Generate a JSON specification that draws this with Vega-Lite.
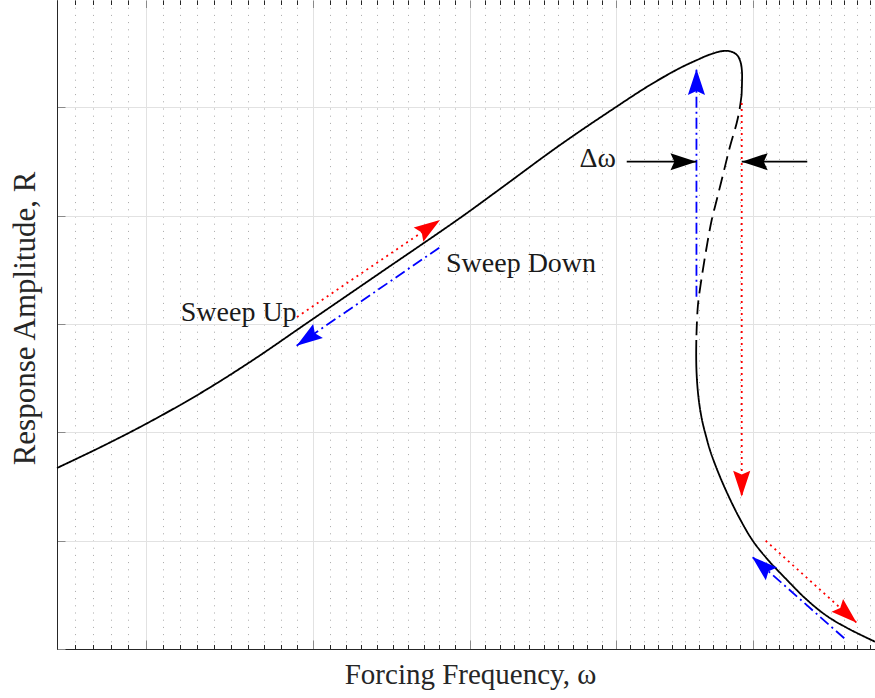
{
  "$schema": "https://vega.github.io/schema/vega-lite/v6.json",
  "width": 818,
  "height": 649,
  "autosize": {"type": "none"},
  "padding": {"left": 57, "top": 0, "right": 0, "bottom": 49},
  "background": "white",
  "config": {
    "view": {"stroke": null},
    "font": "Liberation Serif",
    "axis": {"labels": false, "titleFont": "Liberation Serif", "titleFontWeight": "normal", "titleFontSize": 29, "titleColor": "#262626"}
  },
  "datasets": {
    "curve": [
      {"branch": "upper", "k": 0, "w": 1.25, "R": 1.6705},
      {"branch": "upper", "k": 1, "w": 1.274, "R": 1.8606},
      {"branch": "upper", "k": 2, "w": 1.3, "R": 2.0766},
      {"branch": "upper", "k": 3, "w": 1.3315, "R": 2.358},
      {"branch": "upper", "k": 4, "w": 1.3631, "R": 2.6673},
      {"branch": "upper", "k": 5, "w": 1.396, "R": 3.0088},
      {"branch": "upper", "k": 6, "w": 1.4417, "R": 3.4702},
      {"branch": "upper", "k": 7, "w": 1.4936, "R": 3.9778},
      {"branch": "upper", "k": 8, "w": 1.5202, "R": 4.2455},
      {"branch": "upper", "k": 9, "w": 1.5611, "R": 4.6516},
      {"branch": "upper", "k": 10, "w": 1.6002, "R": 5.0023},
      {"branch": "upper", "k": 11, "w": 1.6244, "R": 5.2054},
      {"branch": "upper", "k": 12, "w": 1.6461, "R": 5.3623},
      {"branch": "upper", "k": 13, "w": 1.6585, "R": 5.4361},
      {"branch": "upper", "k": 14, "w": 1.668, "R": 5.4869},
      {"branch": "upper", "k": 15, "w": 1.6777, "R": 5.5192},
      {"branch": "upper", "k": 16, "w": 1.6836, "R": 5.5146},
      {"branch": "upper", "k": 17, "w": 1.6881, "R": 5.4822},
      {"branch": "upper", "k": 18, "w": 1.6907, "R": 5.4176},
      {"branch": "upper", "k": 19, "w": 1.6918, "R": 5.3253},
      {"branch": "upper", "k": 20, "w": 1.6918, "R": 5.2238},
      {"branch": "upper", "k": 21, "w": 1.6915, "R": 5.1131},
      {"branch": "unstable", "k": 0, "w": 1.6915, "R": 5.1131},
      {"branch": "unstable", "k": 1, "w": 1.6899, "R": 4.9746},
      {"branch": "unstable", "k": 2, "w": 1.6878, "R": 4.8519},
      {"branch": "unstable", "k": 3, "w": 1.6828, "R": 4.6359},
      {"branch": "unstable", "k": 4, "w": 1.6779, "R": 4.3904},
      {"branch": "unstable", "k": 5, "w": 1.673, "R": 4.144},
      {"branch": "unstable", "k": 6, "w": 1.6693, "R": 3.9594},
      {"branch": "unstable", "k": 7, "w": 1.6656, "R": 3.7102},
      {"branch": "unstable", "k": 8, "w": 1.662, "R": 3.4333},
      {"branch": "unstable", "k": 9, "w": 1.6592, "R": 3.1749},
      {"branch": "unstable", "k": 10, "w": 1.6583, "R": 2.9718},
      {"branch": "unstable", "k": 11, "w": 1.658, "R": 2.8519},
      {"branch": "lower", "k": 0, "w": 1.658, "R": 2.8519},
      {"branch": "lower", "k": 1, "w": 1.6579, "R": 2.7134},
      {"branch": "lower", "k": 2, "w": 1.6581, "R": 2.575},
      {"branch": "lower", "k": 3, "w": 1.6589, "R": 2.4089},
      {"branch": "lower", "k": 4, "w": 1.6603, "R": 2.252},
      {"branch": "lower", "k": 5, "w": 1.6625, "R": 2.0951},
      {"branch": "lower", "k": 6, "w": 1.6651, "R": 1.9659},
      {"branch": "lower", "k": 7, "w": 1.668, "R": 1.8366},
      {"branch": "lower", "k": 8, "w": 1.674, "R": 1.6336},
      {"branch": "lower", "k": 9, "w": 1.6814, "R": 1.4213},
      {"branch": "lower", "k": 10, "w": 1.6903, "R": 1.1998},
      {"branch": "lower", "k": 11, "w": 1.7, "R": 0.9968},
      {"branch": "lower", "k": 12, "w": 1.7121, "R": 0.8122},
      {"branch": "lower", "k": 13, "w": 1.7258, "R": 0.6368},
      {"branch": "lower", "k": 14, "w": 1.7403, "R": 0.4615},
      {"branch": "lower", "k": 15, "w": 1.7565, "R": 0.3046},
      {"branch": "lower", "k": 16, "w": 1.7745, "R": 0.18},
      {"branch": "lower", "k": 17, "w": 1.7942, "R": 0.0674}
    ],
    "arrows": [
      {"id": "a1", "style": "red", "k": 0, "w": 1.3898, "R": 3.0641},
      {"id": "a1", "style": "red", "k": 1, "w": 1.4805, "R": 3.9594},
      {"id": "a2", "style": "blue", "k": 0, "w": 1.48, "R": 3.7038},
      {"id": "a2", "style": "blue", "k": 1, "w": 1.3896, "R": 2.7992},
      {"id": "a3", "style": "blue", "k": 0, "w": 1.6581, "R": 3.2515},
      {"id": "a3", "style": "blue", "k": 1, "w": 1.6581, "R": 5.353},
      {"id": "a4", "style": "red", "k": 0, "w": 1.6916, "R": 5.0392},
      {"id": "a4", "style": "red", "k": 1, "w": 1.6916, "R": 1.4056},
      {"id": "a5", "style": "red", "k": 0, "w": 1.7096, "R": 0.9995},
      {"id": "a5", "style": "red", "k": 1, "w": 1.7797, "R": 0.2427},
      {"id": "a6", "style": "blue", "k": 0, "w": 1.77, "R": 0.0988},
      {"id": "a6", "style": "blue", "k": 1, "w": 1.6993, "R": 0.8519},
      {"id": "a7", "style": "black", "k": 0, "w": 1.6078, "R": 4.4975},
      {"id": "a7", "style": "black", "k": 1, "w": 1.6581, "R": 4.4975},
      {"id": "a8", "style": "black", "k": 0, "w": 1.7413, "R": 4.4975},
      {"id": "a8", "style": "black", "k": 1, "w": 1.6916, "R": 4.4975}
    ],
    "heads": [
      {"style": "red", "w": 1.4805, "R": 3.9594, "ang": 55.9},
      {"style": "blue", "w": 1.3896, "R": 2.7992, "ang": 235.5},
      {"style": "blue", "w": 1.6581, "R": 5.353, "ang": 0},
      {"style": "red", "w": 1.6916, "R": 1.4056, "ang": 180},
      {"style": "red", "w": 1.7797, "R": 0.2427, "ang": 132},
      {"style": "blue", "w": 1.6993, "R": 0.8519, "ang": 311.5},
      {"style": "black", "w": 1.6581, "R": 4.4975, "ang": 90},
      {"style": "black", "w": 1.6916, "R": 4.4975, "ang": 270}
    ],
    "labels": [
      {"t": "Sweep Up", "a": "right", "w": 1.3896, "R": 3.03},
      {"t": "Sweep Down", "a": "left", "w": 1.4844, "R": 3.4795},
      {"t": "Δω", "a": "right", "w": 1.6002, "R": 4.4458}
    ]
  },
  "layer": [
    {
      "data": {"name": "curve"},
      "mark": {"type": "line", "color": "black", "strokeWidth": 1.8, "interpolate": "catmull-rom"},
      "encoding": {
        "x": {
          "field": "w", "type": "quantitative",
          "scale": {"type": "log", "domain": [1.25, 1.7942], "nice": false},
          "axis": {
            "orient": "bottom", "title": "Forcing Frequency, ω", "labels": false,
            "values": [1.25,1.26,1.27,1.28,1.29,1.3,1.31,1.32,1.33,1.34,1.35,1.36,1.37,1.38,1.39,1.4,1.41,1.42,1.43,1.44,1.45,1.46,1.47,1.48,1.49,1.5,1.51,1.52,1.53,1.54,1.55,1.56,1.57,1.58,1.59,1.6,1.61,1.62,1.63,1.64,1.65,1.66,1.67,1.68,1.69,1.7,1.71,1.72,1.73,1.74,1.75,1.76,1.77,1.78,1.79],
            "domainColor": "#262626", "domainWidth": 1,
            "tickSize": {"condition": {"test": "abs(datum.value*10 - round(datum.value*10)) < 0.000001", "value": -9}, "value": -4.5},
            "tickColor": {"condition": {"test": "abs(datum.value*10 - round(datum.value*10)) < 0.000001", "value": "#8a8a8a"}, "value": "#262626"},
            "tickWidth": 1,
            "grid": true,
            "gridDash": {"condition": {"test": "abs(datum.value*10 - round(datum.value*10)) < 0.000001", "value": []}, "value": [1, 6.2]},
            "gridColor": {"condition": {"test": "abs(datum.value*10 - round(datum.value*10)) < 0.000001", "value": "#e2e2e2"}, "value": "#a8a8a8"},
            "gridWidth": 1,
            "titleX": 413, "titleY": 34, "titleBaseline": "alphabetic"
          }
        },
        "y": {
          "field": "R", "type": "quantitative",
          "scale": {"domain": [0, 5.99], "nice": false, "zero": false},
          "axis": {
            "orient": "left", "title": "Response Amplitude, R", "labels": false,
            "values": [0, 1, 2, 3, 4, 5],
            "tickSize": -8, "tickColor": "#8a8a8a", "tickWidth": 1,
            "domainColor": "#262626", "domainWidth": 1,
            "grid": true, "gridColor": "#e2e2e2", "gridWidth": 1,
            "titleFontSize": 31,
            "titleX": -23, "titleY": 318, "titleBaseline": "alphabetic"
          }
        },
        "detail": {"field": "branch"},
        "order": {"field": "k", "type": "quantitative"},
        "strokeDash": {"field": "branch", "type": "nominal", "scale": {"domain": ["upper", "unstable", "lower"], "range": [[1, 0], [14, 7], [1, 0]]}, "legend": null}
      }
    },
    {
      "data": {"name": "arrows"},
      "mark": {"type": "line", "strokeWidth": 1.8},
      "encoding": {
        "x": {
          "field": "w", "type": "quantitative",
          "scale": {"type": "log", "domain": [1.25, 1.7942], "nice": false},
          "axis": {
            "orient": "top", "title": null, "labels": false, "domain": false, "grid": false,
            "values": [1.25,1.26,1.27,1.28,1.29,1.3,1.31,1.32,1.33,1.34,1.35,1.36,1.37,1.38,1.39,1.4,1.41,1.42,1.43,1.44,1.45,1.46,1.47,1.48,1.49,1.5,1.51,1.52,1.53,1.54,1.55,1.56,1.57,1.58,1.59,1.6,1.61,1.62,1.63,1.64,1.65,1.66,1.67,1.68,1.69,1.7,1.71,1.72,1.73,1.74,1.75,1.76,1.77,1.78,1.79],
            "tickSize": {"condition": {"test": "abs(datum.value*10 - round(datum.value*10)) < 0.000001", "value": -7.5}, "value": -4.5},
            "tickColor": {"condition": {"test": "abs(datum.value*10 - round(datum.value*10)) < 0.000001", "value": "#8a8a8a"}, "value": "#262626"},
            "tickWidth": 1
          }
        },
        "y": {"field": "R", "type": "quantitative", "scale": {"domain": [0, 5.99], "nice": false, "zero": false}, "axis": null},
        "detail": {"field": "id"},
        "order": {"field": "k", "type": "quantitative"},
        "color": {"field": "style", "type": "nominal", "scale": {"domain": ["red", "blue", "black"], "range": ["#ff0000", "#0000ff", "#000000"]}, "legend": null},
        "strokeDash": {"field": "style", "type": "nominal", "scale": {"domain": ["red", "blue", "black"], "range": [[2, 4], [11, 4, 2, 4], [1, 0]]}, "legend": null}
      }
    },
    {
      "data": {"name": "heads"},
      "mark": {"type": "point", "shape": "M0,0L-0.33,1L0,0.85L0.33,1Z", "filled": true, "opacity": 1, "size": 2700, "strokeWidth": 0},
      "encoding": {
        "x": {"field": "w", "type": "quantitative", "scale": {"type": "log", "domain": [1.25, 1.7942], "nice": false}, "axis": null},
        "y": {"field": "R", "type": "quantitative", "scale": {"domain": [0, 5.99], "nice": false, "zero": false}, "axis": null},
        "angle": {"field": "ang", "type": "quantitative", "scale": null},
        "color": {"field": "style", "type": "nominal", "scale": {"domain": ["red", "blue", "black"], "range": ["#ff0000", "#0000ff", "#000000"]}, "legend": null}
      }
    },
    {
      "data": {"name": "labels"},
      "transform": [{"filter": "datum.a == 'right'"}],
      "mark": {"type": "text", "align": "right", "baseline": "alphabetic", "fontSize": 28, "font": "Liberation Serif", "color": "#1a1a1a"},
      "encoding": {
        "x": {"field": "w", "type": "quantitative", "scale": {"type": "log", "domain": [1.25, 1.7942], "nice": false}, "axis": null},
        "y": {"field": "R", "type": "quantitative", "scale": {"domain": [0, 5.99], "nice": false, "zero": false}, "axis": null},
        "text": {"field": "t"}
      }
    },
    {
      "data": {"name": "labels"},
      "transform": [{"filter": "datum.a == 'left'"}],
      "mark": {"type": "text", "align": "left", "baseline": "alphabetic", "fontSize": 28, "font": "Liberation Serif", "color": "#1a1a1a"},
      "encoding": {
        "x": {"field": "w", "type": "quantitative", "scale": {"type": "log", "domain": [1.25, 1.7942], "nice": false}, "axis": null},
        "y": {"field": "R", "type": "quantitative", "scale": {"domain": [0, 5.99], "nice": false, "zero": false}, "axis": null},
        "text": {"field": "t"}
      }
    }
  ],
  "resolve": {
    "axis": {"x": "independent", "y": "independent"},
    "scale": {"strokeDash": "independent"}
  }
}
